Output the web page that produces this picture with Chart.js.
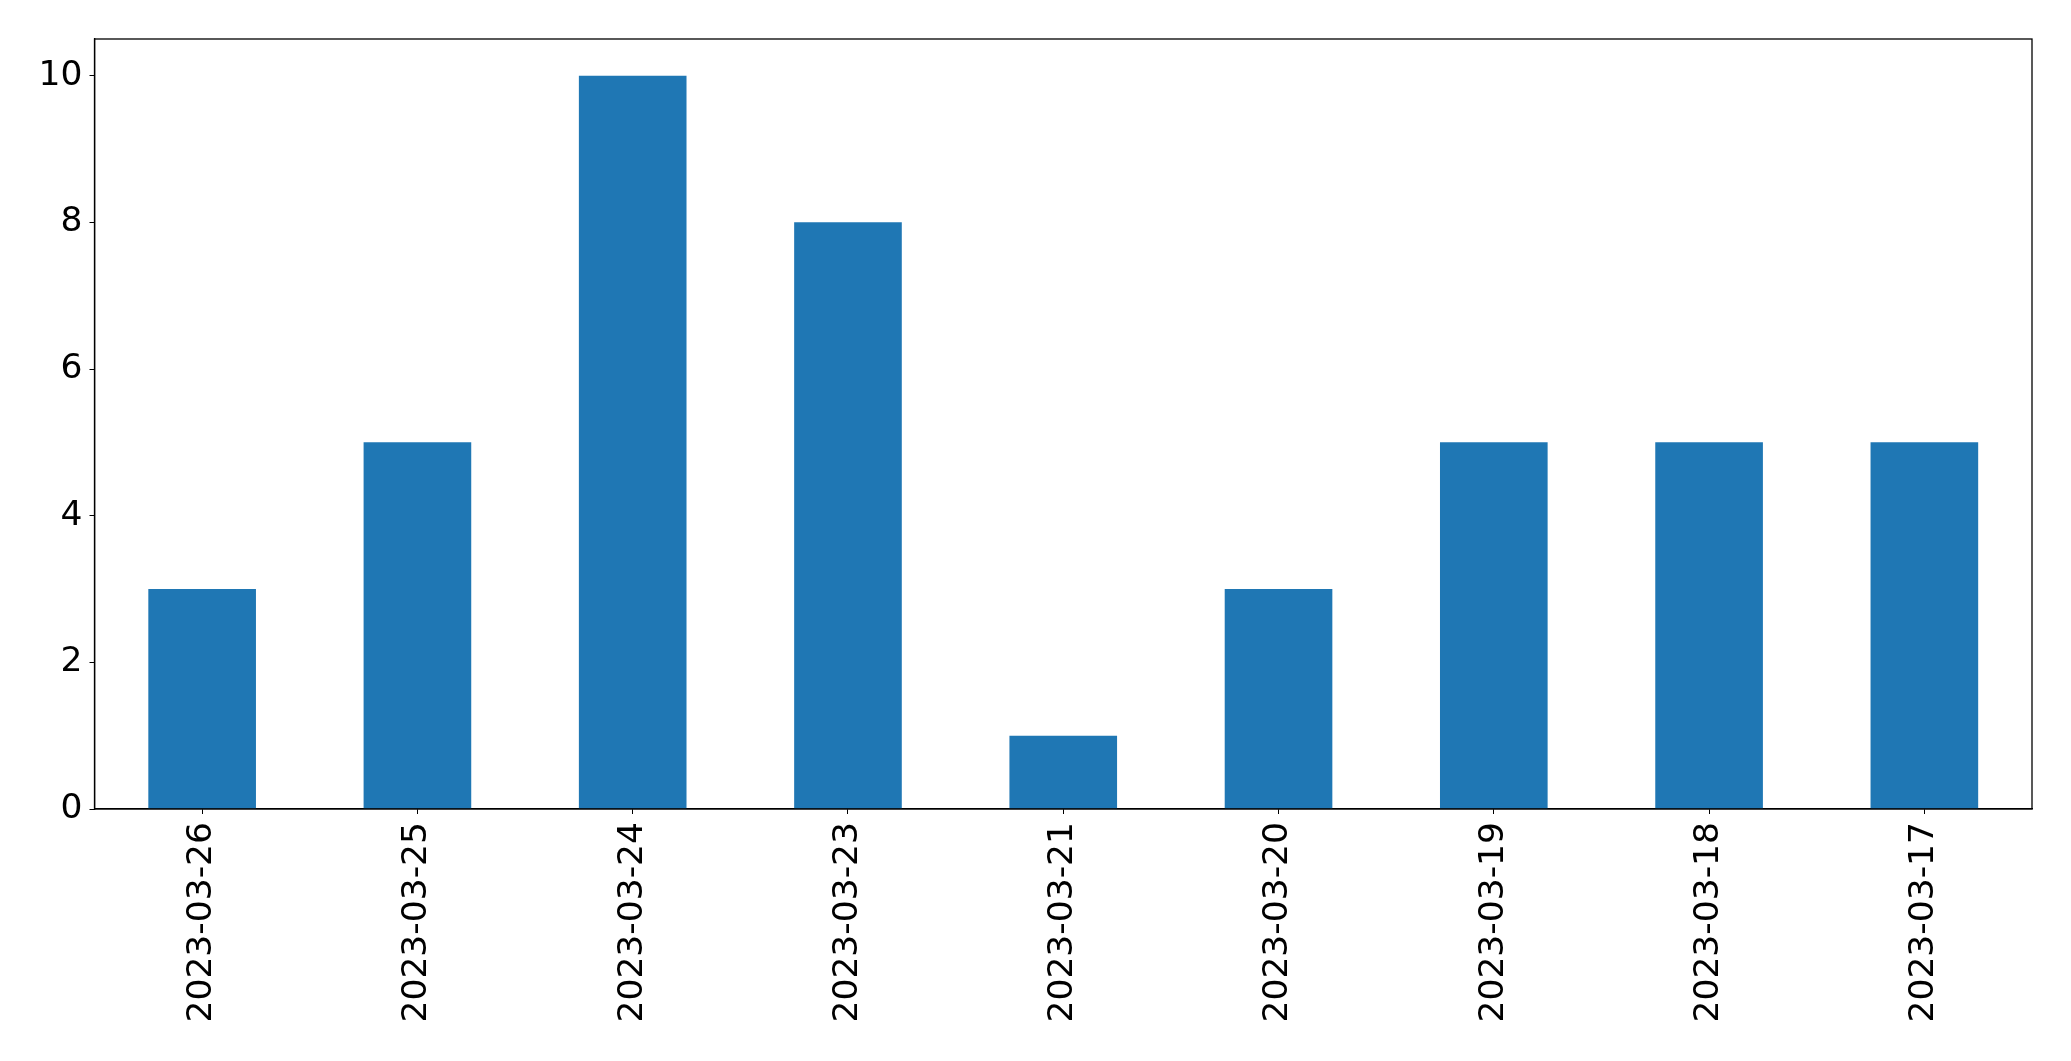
<!DOCTYPE html>
<html>
<head>
<meta charset="utf-8">
<script src="https://cdn.jsdelivr.net/npm/chart.js@4/dist/chart.umd.min.js"></script>
<style>
  html, body { margin: 0; padding: 0; background: #fff; }
  canvas { display: block; }
</style>
</head>
<body>
<canvas id="chart" width="2071" height="1061"></canvas>
<script>
const dates = ['2023-03-26', '2023-03-25', '2023-03-24', '2023-03-23', '2023-03-21',
               '2023-03-20', '2023-03-19', '2023-03-18', '2023-03-17'];
const counts = [3, 5, 10, 8, 1, 3, 5, 5, 5];
const yTicks = [0, 2, 4, 6, 8, 10];

// top and right spines, like matplotlib's frame
const frame = {
  id: 'frame',
  afterDraw(chart) {
    const a = chart.chartArea, c = chart.ctx;
    c.save();
    c.strokeStyle = '#000';
    c.lineWidth = 1.3;
    c.strokeRect(a.left, a.top, a.right - a.left, a.bottom - a.top);
    c.restore();
  }
};

const ctx = document.getElementById('chart').getContext('2d');
new Chart(ctx, {
  type: 'bar',
  data: {
    labels: dates,
    datasets: [{ data: counts, backgroundColor: '#1f77b4', barPercentage: 0.5, categoryPercentage: 1 }]
  },
  options: {
    responsive: false,
    animation: false,
    devicePixelRatio: 1,
    layout: { padding: { left: 0, top: 39, right: 39, bottom: 0 } },
    plugins: { legend: { display: false }, tooltip: { enabled: false } },
    scales: {
      x: {
        offset: true,
        grid: { display: true, drawOnChartArea: false, drawTicks: true, tickLength: 5, color: '#000', offset: false },
        border: { display: true, color: '#000', width: 1.3 },
        ticks: {
          color: '#000', font: { family: 'DejaVu Sans', size: 34.5 },
          minRotation: 90, maxRotation: 90, padding: 8, autoSkip: false
        },
        afterFit(s) { s.height = 252; }
      },
      y: {
        min: 0, max: 10.5,
        grid: { display: true, drawOnChartArea: false, drawTicks: true, tickLength: 5, color: '#000' },
        border: { display: true, color: '#000', width: 1.3 },
        ticks: { color: '#000', font: { family: 'DejaVu Sans', size: 34.5 }, padding: 7 },
        afterBuildTicks(s) { s.ticks = yTicks.map(v => ({ value: v })); },
        afterFit(s) { s.width = 94.5; }
      }
    }
  },
  plugins: [frame]
});
</script>
</body>
</html>
